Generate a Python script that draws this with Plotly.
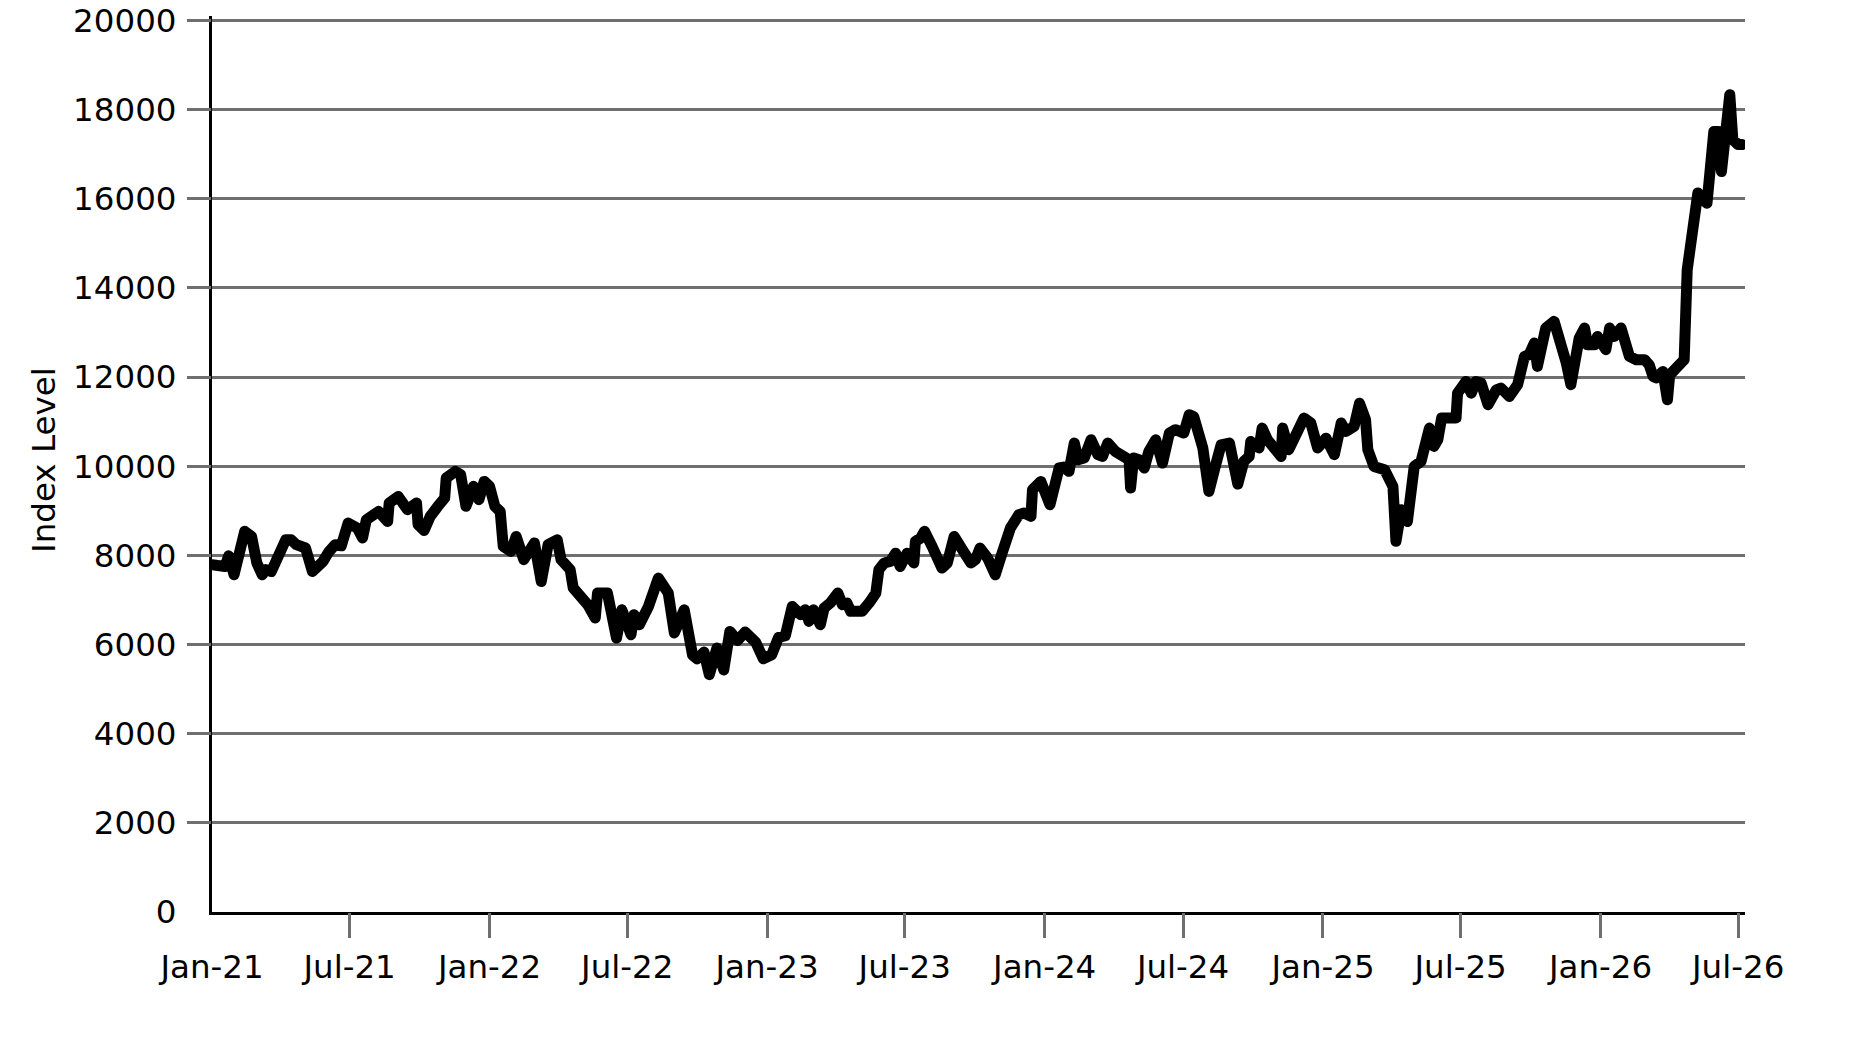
import plotly.graph_objects as go

# weekly-ish index closes (date, level)
dates = [
    "2021-01-01", "2021-01-18", "2021-01-23", "2021-01-30", "2021-02-13", "2021-02-22", "2021-03-01", "2021-03-08", "2021-03-13", "2021-03-20",
    "2021-04-08", "2021-04-15", "2021-04-22", "2021-05-04", "2021-05-13", "2021-05-27", "2021-06-03", "2021-06-12", "2021-06-20", "2021-06-29",
    "2021-07-11", "2021-07-18", "2021-07-23", "2021-07-30", "2021-08-08", "2021-08-20", "2021-08-22", "2021-09-03", "2021-09-15", "2021-09-27",
    "2021-09-29", "2021-10-07", "2021-10-15", "2021-10-25", "2021-11-03", "2021-11-05", "2021-11-17", "2021-11-24", "2021-12-01", "2021-12-11",
    "2021-12-18", "2021-12-25", "2022-01-01", "2022-01-08", "2022-01-15", "2022-01-19", "2022-01-29", "2022-02-05", "2022-02-15", "2022-03-01",
    "2022-03-10", "2022-03-19", "2022-03-31", "2022-04-05", "2022-04-17", "2022-04-21", "2022-05-10", "2022-05-20", "2022-05-23", "2022-06-05",
    "2022-06-17", "2022-06-24", "2022-07-06", "2022-07-10", "2022-07-17", "2022-07-29", "2022-08-11", "2022-08-24", "2022-09-01", "2022-09-14",
    "2022-09-25", "2022-10-01", "2022-10-10", "2022-10-17", "2022-10-27", "2022-11-05", "2022-11-13", "2022-11-23", "2022-12-03", "2022-12-17",
    "2022-12-27", "2023-01-07", "2023-01-16", "2023-01-25", "2023-02-03", "2023-02-14", "2023-02-20", "2023-02-25", "2023-03-03", "2023-03-12",
    "2023-03-17", "2023-03-25", "2023-04-04", "2023-04-10", "2023-04-16", "2023-04-21", "2023-05-06", "2023-05-15", "2023-05-24", "2023-05-28",
    "2023-06-04", "2023-06-12", "2023-06-19", "2023-06-25", "2023-07-04", "2023-07-13", "2023-07-15", "2023-07-22", "2023-07-27", "2023-08-06",
    "2023-08-13", "2023-08-19", "2023-08-26", "2023-09-04", "2023-09-15", "2023-09-26", "2023-10-02", "2023-10-08", "2023-10-18", "2023-10-28",
    "2023-11-06", "2023-11-17", "2023-11-28", "2023-12-05", "2023-12-14", "2023-12-16", "2023-12-27", "2024-01-02", "2024-01-08", "2024-01-20",
    "2024-01-26", "2024-02-02", "2024-02-09", "2024-02-14", "2024-02-22", "2024-03-02", "2024-03-11", "2024-03-17", "2024-03-24", "2024-04-03",
    "2024-04-10", "2024-04-21", "2024-04-23", "2024-04-27", "2024-05-04", "2024-05-11", "2024-05-17", "2024-05-26", "2024-06-04", "2024-06-13",
    "2024-06-21", "2024-07-02", "2024-07-09", "2024-07-15", "2024-07-27", "2024-08-04", "2024-08-13", "2024-08-20", "2024-08-31", "2024-09-11",
    "2024-09-19", "2024-09-26", "2024-09-28", "2024-10-09", "2024-10-13", "2024-10-20", "2024-11-07", "2024-11-09", "2024-11-17", "2024-11-26",
    "2024-12-07", "2024-12-16", "2024-12-25", "2025-01-05", "2025-01-16", "2025-01-25", "2025-01-31", "2025-02-11", "2025-02-18", "2025-02-26",
    "2025-03-01", "2025-03-09", "2025-03-23", "2025-04-03", "2025-04-07", "2025-04-14", "2025-04-22", "2025-05-01", "2025-05-10", "2025-05-21",
    "2025-05-27", "2025-06-01", "2025-06-06", "2025-06-25", "2025-06-27", "2025-07-08", "2025-07-15", "2025-07-21", "2025-07-28", "2025-08-06",
    "2025-08-17", "2025-08-23", "2025-09-03", "2025-09-14", "2025-09-23", "2025-09-29", "2025-10-06", "2025-10-10", "2025-10-21", "2025-11-01",
    "2025-11-10", "2025-11-17", "2025-11-23", "2025-11-28", "2025-12-04", "2025-12-11", "2025-12-15", "2025-12-24", "2025-12-28", "2026-01-08",
    "2026-01-13", "2026-01-19", "2026-01-28", "2026-02-08", "2026-02-17", "2026-02-28", "2026-03-06", "2026-03-11", "2026-03-15", "2026-03-24",
    "2026-03-30", "2026-04-02", "2026-04-13", "2026-04-21", "2026-04-25", "2026-05-02", "2026-05-09", "2026-05-21", "2026-05-24", "2026-05-30",
    "2026-06-05", "2026-06-09", "2026-06-20", "2026-06-24", "2026-07-01", "2026-07-06",
]

index_level = [
    7790, 7750, 7990, 7565, 8540, 8425, 7830, 7565, 7680, 7640,
    8350, 8350, 8240, 8165, 7640, 7865, 8065, 8240, 8215, 8725,
    8615, 8390, 8800, 8910, 8985, 8760, 9175, 9320, 9025, 9175,
    8690, 8560, 8875, 9100, 9285, 9735, 9885, 9810, 9100, 9550,
    9250, 9660, 9550, 9100, 8985, 8200, 8090, 8425, 7905, 8280,
    7415, 8240, 8350, 7905, 7680, 7270, 6895, 6595, 7155, 7155,
    6145, 6780, 6220, 6670, 6445, 6855, 7490, 7155, 6260, 6780,
    5760, 5680, 5830, 5325, 5920, 5430, 6295, 6090, 6280, 6050,
    5680, 5770, 6160, 6200, 6855, 6670, 6780, 6520, 6780, 6445,
    6820, 6930, 7155, 6895, 6930, 6745, 6745, 6930, 7155, 7680,
    7830, 7865, 8050, 7750, 8050, 7830, 8315, 8390, 8540, 8200,
    7905, 7715, 7830, 8425, 8125, 7830, 7905, 8165, 7940, 7565,
    8050, 8615, 8910, 8950, 8875, 9475, 9660, 9400, 9135, 9960,
    9980, 9885, 10520, 10145, 10185, 10595, 10260, 10220, 10520, 10330,
    10260, 10145, 9510, 10185, 10145, 9960, 10330, 10595, 10070, 10745,
    10820, 10745, 11155, 11115, 10410, 9435, 10035, 10480, 10520, 9600,
    10110, 10220, 10555, 10410, 10855, 10595, 10220, 10855, 10370, 10670,
    11080, 10970, 10410, 10630, 10260, 10970, 10780, 10895, 11415, 11045,
    10370, 9995, 9920, 9545, 8315, 9025, 8760, 9995, 10110, 10855,
    10445, 10595, 11080, 11080, 11640, 11900, 11640, 11900, 11865, 11380,
    11715, 11755, 11565, 11830, 12465, 12500, 12765, 12240, 13100, 13250,
    12765, 12315, 11830, 12540, 12875, 13100, 12725, 12725, 12910, 12615,
    13100, 12910, 13100, 12465, 12390, 12390, 12275, 12015, 11980, 12125,
    11490, 12050, 12275, 12390, 14410, 15305, 16130, 15900, 16650, 17510,
    17510, 16610, 18335, 17325, 17215, 17215,
]

tick_dates = ["2021-01-01", "2021-07-01", "2022-01-01", "2022-07-01", "2023-01-01", "2023-07-01",
              "2024-01-01", "2024-07-01", "2025-01-01", "2025-07-01", "2026-01-01", "2026-07-01"]
tick_labels = ["Jan-21", "Jul-21", "Jan-22", "Jul-22", "Jan-23", "Jul-23",
               "Jan-24", "Jul-24", "Jan-25", "Jul-25", "Jan-26", "Jul-26"]
y_ticks = [0, 2000, 4000, 6000, 8000, 10000, 12000, 14000, 16000, 18000, 20000]
y_labels = [str(v) for v in y_ticks]

x_range = ["2021-01-01", "2026-07-10"]
y_range = [0, 20100]
grid_gray = "#6f6f6f"

fig = go.Figure()

fig.add_trace(go.Scatter(
    x=dates, y=index_level,
    mode="lines",
    line=dict(color="black", width=11),
    name="Index Level",
))

# invisible copy on a second, transparent subplot stacked on the first;
# its axes only carry the tick marks (no tick mark at the origin)
fig.add_trace(go.Scatter(
    x=dates, y=index_level,
    xaxis="x2", yaxis="y2",
    mode="lines", line=dict(width=0), opacity=0,
    hoverinfo="skip", showlegend=False,
))

fig.update_layout(
    width=1875, height=1042,
    margin=dict(l=212, r=130, t=16, b=130),
    plot_bgcolor="rgba(0,0,0,0)", paper_bgcolor="white",
    showlegend=False,
    font=dict(family="DejaVu Sans", size=32.5, color="black"),
    xaxis=dict(
        type="date", range=x_range, automargin=False,
        tickvals=tick_dates, ticktext=tick_labels,
        ticks="", ticklabelstandoff=24,
        showgrid=False, zeroline=False,
        showline=True, linecolor="black", linewidth=3,
    ),
    yaxis=dict(
        range=y_range, automargin=False,
        tickvals=y_ticks, ticktext=y_labels,
        ticks="", ticklabelstandoff=26,
        showgrid=True, gridcolor=grid_gray, gridwidth=3,
        zeroline=False,
        showline=True, linecolor="black", linewidth=3,
    ),
    xaxis2=dict(
        type="date", range=x_range, domain=[0, 1], anchor="y2", side="bottom",
        automargin=False,
        tickvals=tick_dates[1:], ticks="outside", ticklen=25, tickwidth=3,
        tickcolor=grid_gray, showticklabels=False,
        showgrid=False, zeroline=False, showline=False,
    ),
    yaxis2=dict(
        range=y_range, domain=[0, 1], anchor="x2", side="left",
        automargin=False,
        tickvals=y_ticks[1:], ticks="outside", ticklen=24, tickwidth=3,
        tickcolor=grid_gray, showticklabels=False,
        showgrid=False, zeroline=False, showline=False,
    ),
    annotations=[dict(
        text="Index Level", textangle=-90,
        xref="paper", yref="paper", x=-0.110, y=0.505,
        xanchor="center", yanchor="middle", showarrow=False,
        font=dict(family="DejaVu Sans", size=32.5, color="black"),
    )],
)

# drop the default page margin and round the line joins like the original
page_fix = """
document.body.style.margin = '0';
function roundLines(){
  document.querySelectorAll('path.js-line').forEach(function(p){
    p.style.strokeLinejoin = 'round';
    p.style.strokeLinecap = 'round';
  });
}
roundLines();
setTimeout(roundLines, 50);
"""

fig.write_html("out.html", config={"displayModeBar": False}, post_script=page_fix)
